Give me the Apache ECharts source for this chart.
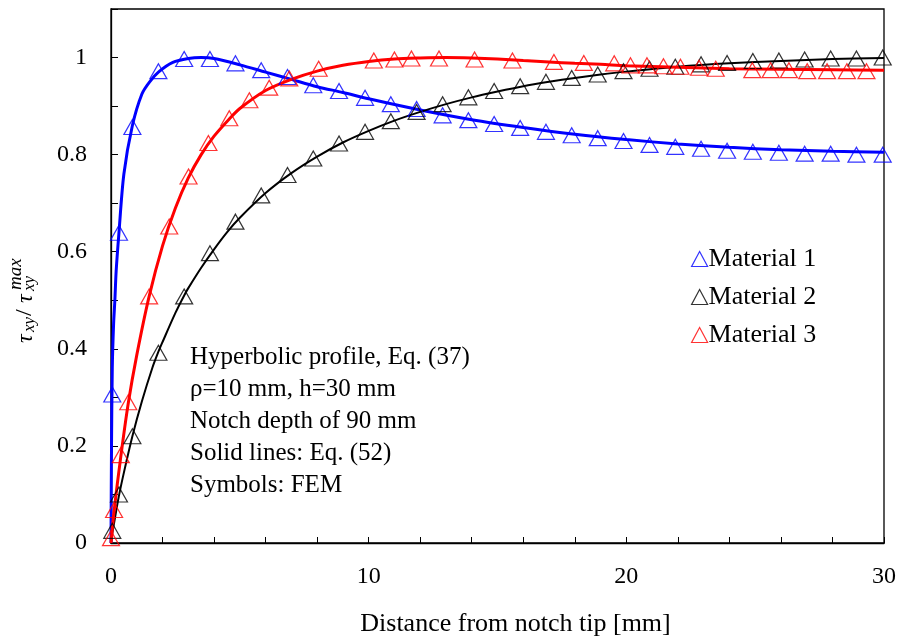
<!DOCTYPE html>
<html>
<head>
<meta charset="utf-8">
<script src="https://cdn.jsdelivr.net/npm/echarts/dist/echarts.min.js"></script>
<style>
  html, body { margin: 0; padding: 0; background: #ffffff; }
  #chart { width: 905px; height: 642px; }
</style>
</head>
<body>
<div id="chart"></div>
<script>
// FEM sample positions (mm) shared by Material 1 and Material 2
const femX = [0.05, 0.31, 0.83, 1.84, 2.84, 3.84, 4.83, 5.83, 6.85, 7.85, 8.85, 9.86,
  10.86, 11.86, 12.87, 13.87, 14.87, 15.88, 16.88, 17.88, 18.89, 19.89, 20.9, 21.9,
  22.9, 23.91, 24.91, 25.92, 26.92, 27.93, 28.93, 29.95];

// FEM results, normalised shear stress
const fem1 = [0.306, 0.639, 0.857, 0.972, 0.997, 0.997, 0.988, 0.974, 0.960, 0.943, 0.931, 0.917,
  0.904, 0.894, 0.881, 0.871, 0.863, 0.855, 0.847, 0.840, 0.834, 0.828, 0.820, 0.816,
  0.812, 0.808, 0.806, 0.804, 0.802, 0.802, 0.800, 0.800];
const fem2 = [0.025, 0.100, 0.220, 0.392, 0.508, 0.597, 0.662, 0.716, 0.758, 0.792, 0.823, 0.847,
  0.869, 0.888, 0.904, 0.918, 0.931, 0.941, 0.950, 0.958, 0.965, 0.972, 0.977, 0.981,
  0.986, 0.989, 0.993, 0.994, 0.996, 0.998, 0.998, 1.000];
const fem3X = [0.0, 0.12, 0.38, 0.67, 1.48, 2.26, 3.01, 3.78, 4.59, 5.37, 6.14, 6.92, 8.06,
  10.2, 11.0, 11.66, 12.73, 14.11, 15.58, 17.19, 18.35, 19.53, 20.16, 20.8, 21.44, 22.1,
  22.82, 23.47, 24.89, 25.6, 26.31, 27.02, 27.79, 28.56, 29.32];
const fem3 = [0.01, 0.068, 0.181, 0.290, 0.508, 0.652, 0.755, 0.824, 0.875, 0.912, 0.938, 0.957, 0.977,
  0.994, 0.996, 0.998, 0.998, 0.996, 0.994, 0.991, 0.989, 0.988, 0.984, 0.984, 0.982, 0.981,
  0.979, 0.977, 0.974, 0.974, 0.974, 0.972, 0.972, 0.972, 0.972];

// Analytical curves, Eq. (52)
const eq1X = [0, 0.02, 0.05, 0.1, 0.15, 0.2, 0.31, 0.5, 0.83, 1.2, 1.5, 1.84, 2.4, 3, 3.5, 4, 5, 6, 7, 8, 9, 10,
  12, 14, 16, 18, 20, 22, 24, 26, 28, 30];
const eq1Y = [0, 0.2, 0.36, 0.45, 0.5, 0.56, 0.64, 0.76, 0.86, 0.925, 0.95, 0.97, 0.99, 0.998, 1.0, 0.998, 0.985, 0.97, 0.955, 0.94, 0.928, 0.915,
  0.892, 0.872, 0.856, 0.842, 0.831, 0.822, 0.815, 0.81, 0.807, 0.805];
const eq2X = [0, 0.05, 0.1, 0.3, 0.5, 0.83, 1.2, 1.6, 1.84, 2, 2.5, 2.84, 3, 3.5, 4, 4.5, 5, 6, 7, 8, 9, 10, 11, 12, 13, 14, 15,
  16, 17, 18, 19, 20, 22, 24, 26, 28, 30];
const eq2Y = [0, 0.02, 0.035, 0.095, 0.145, 0.22, 0.292, 0.36, 0.394, 0.414, 0.474, 0.51, 0.525, 0.567, 0.605, 0.64, 0.67, 0.721, 0.762, 0.796, 0.825, 0.849, 0.87, 0.888, 0.904, 0.918, 0.93,
  0.941, 0.95, 0.958, 0.965, 0.971, 0.981, 0.988, 0.993, 0.997, 0.999];
const eq3X = [0, 0.12, 0.38, 0.67, 1, 1.48, 2, 2.5, 3, 3.5, 4, 4.6, 5, 6, 7, 8, 9, 10, 11, 12, 13, 14,
  15, 16, 17, 18, 19, 20, 22, 24, 26, 28, 30];
const eq3Y = [0, 0.066, 0.178, 0.288, 0.387, 0.508, 0.612, 0.69, 0.752, 0.80, 0.838, 0.874, 0.895, 0.932, 0.955, 0.972, 0.984, 0.992, 0.997, 0.999, 1.0, 0.999,
  0.997, 0.994, 0.991, 0.988, 0.986, 0.983, 0.98, 0.977, 0.976, 0.975, 0.974];

const materialNames = ['Material 1', 'Material 2', 'Material 3'];
const colors = ['#0000ff', '#000000', '#ff0000'];

const noteLines = [
  'Hyperbolic profile, Eq. (37)',
  'ρ=10 mm, h=30 mm',
  'Notch depth of 90 mm',
  'Solid lines: Eq. (52)',
  'Symbols: FEM'
];

const serif = '"Liberation Serif", "Times New Roman", serif';
const zip = (xs, ys) => xs.map((x, i) => [x, ys[i]]);

function curve(xs, ys, color, width) {
  return {
    type: 'line', data: zip(xs, ys), showSymbol: false, symbol: 'none',
    smooth: 0.3,
    lineStyle: { color: color, width: width }, z: 2, silent: true
  };
}
function points(name, xs, ys, color) {
  return {
    type: 'scatter', name: name, data: zip(xs, ys),
    symbol: 'triangle', symbolSize: [17, 15],
    itemStyle: { color: 'rgba(255,255,255,0)', borderColor: color, borderWidth: 1.2 },
    z: 3
  };
}

const chart = echarts.init(document.getElementById('chart'), null, { renderer: 'canvas' });

const yTitle = {
  type: 'group', x: 26, y: 343, rotation: Math.PI / 2, silent: true,
  children: [
    { type: 'text', x: 0, y: 0, style: { text: 'τ', fontSize: 24, fontStyle: 'italic', fontFamily: serif, fill: '#000', textVerticalAlign: 'middle' } },
    { type: 'text', x: 11, y: 4, style: { text: 'xy', fontSize: 17, fontStyle: 'italic', fontFamily: serif, fill: '#000', textVerticalAlign: 'middle' } },
    { type: 'text', x: 27, y: -1, style: { text: '/', fontSize: 24, fontFamily: serif, fill: '#000', textVerticalAlign: 'middle' } },
    { type: 'text', x: 40, y: 0, style: { text: 'τ', fontSize: 24, fontStyle: 'italic', fontFamily: serif, fill: '#000', textVerticalAlign: 'middle' } },
    { type: 'text', x: 52, y: 4, style: { text: 'xy', fontSize: 17, fontStyle: 'italic', fontFamily: serif, fill: '#000', textVerticalAlign: 'middle' } },
    { type: 'text', x: 53, y: -10, style: { text: 'max', fontSize: 19, fontStyle: 'italic', fontFamily: serif, fill: '#000', textVerticalAlign: 'middle' } }
  ]
};

const note = {
  type: 'text', left: 190, top: 341, silent: true,
  style: { text: noteLines.join('\n'), fontSize: 25, lineHeight: 32, fontFamily: serif, fill: '#000' }
};

chart.setOption({
  animation: false,
  backgroundColor: '#ffffff',
  grid: { left: 111, right: 21, top: 9, bottom: 98, show: true, borderColor: '#000', borderWidth: 1.3 },
  xAxis: {
    type: 'value', min: 0, max: 30, interval: 2,
    name: 'Distance from notch tip [mm]', nameLocation: 'middle', nameGap: 68,
    nameTextStyle: { fontFamily: serif, fontSize: 26, color: '#000', padding: [0, 0, 0, 36] },
    axisLine: { show: true, lineStyle: { color: '#000', width: 1.3 } },
    axisTick: { show: true, inside: true, length: 6, lineStyle: { color: '#000', width: 1 } },
    axisLabel: {
      fontFamily: serif, fontSize: 24, color: '#000', margin: 22,
      formatter: v => (Math.round(v) % 10 === 0 ? String(Math.round(v)) : '')
    },
    splitLine: { show: false }
  },
  yAxis: {
    type: 'value', min: 0, max: 1.1, interval: 0.1,
    axisLine: { show: true, lineStyle: { color: '#000', width: 1.3 } },
    axisTick: { show: true, inside: true, length: 7, lineStyle: { color: '#000', width: 1 } },
    axisLabel: {
      fontFamily: serif, fontSize: 24, color: '#000', margin: 24,
      formatter: v => {
        const k = Math.round(v * 10);
        return (k % 2 === 0 && k <= 10) ? String(k / 10) : '';
      }
    },
    splitLine: { show: false }
  },
  legend: {
    orient: 'vertical', left: 686, top: 241,
    itemWidth: 16, itemHeight: 15, itemGap: 12,
    data: materialNames.map((n, i) => ({
      name: n, icon: 'triangle',
      itemStyle: { color: 'rgba(255,255,255,0)', borderColor: colors[i], borderWidth: 1.2 }
    })),
    textStyle: { fontFamily: serif, fontSize: 26, color: '#000', padding: [0, 0, 0, -4] },
    selectedMode: false
  },
  graphic: [yTitle, note],
  series: [
    curve(eq1X, eq1Y, colors[0], 3),
    curve(eq2X, eq2Y, colors[1], 2),
    curve(eq3X, eq3Y, colors[2], 3),
    points(materialNames[0], femX, fem1, colors[0]),
    points(materialNames[1], femX, fem2, colors[1]),
    points(materialNames[2], fem3X, fem3, colors[2])
  ]
});
</script>
</body>
</html>
